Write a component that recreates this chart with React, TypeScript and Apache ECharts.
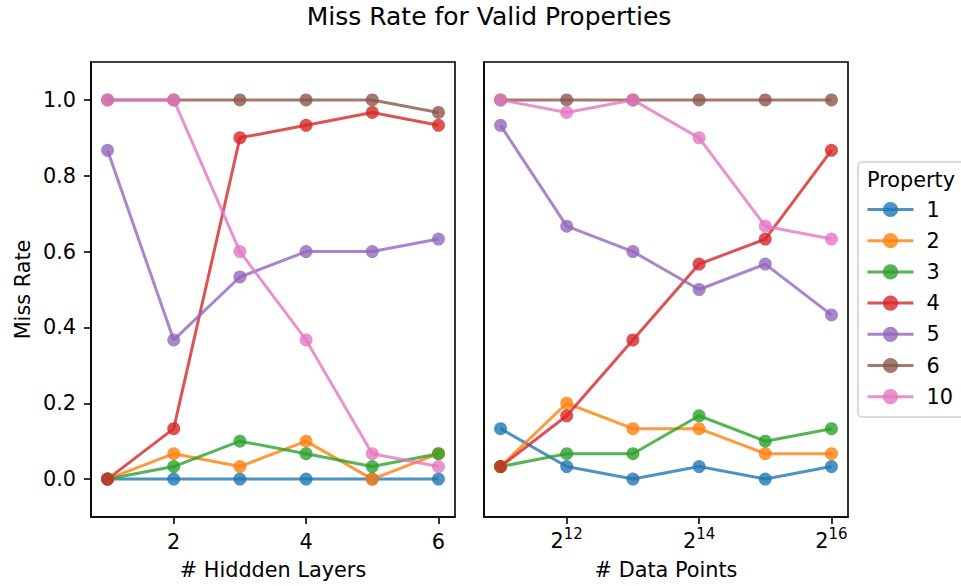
import React, { useEffect, useRef } from 'react';
import * as echarts from 'echarts';

const properties = ['1', '2', '3', '4', '5', '6', '10'];
const colors = ['#1f77b4', '#ff7f0e', '#2ca02c', '#d62728', '#9467bd', '#8c564b', '#e377c2'];
const hiddenLayers = [1, 2, 3, 4, 5, 6];
const dataPoints = [2048, 4096, 8192, 16384, 32768, 65536];
const layerMissRates = [
  [0, 0, 0, 0, 0, 0],
  [0, 0.067, 0.033, 0.1, 0, 0.067],
  [0, 0.033, 0.1, 0.067, 0.033, 0.067],
  [0, 0.133, 0.9, 0.933, 0.967, 0.933],
  [0.867, 0.367, 0.533, 0.6, 0.6, 0.633],
  [1, 1, 1, 1, 1, 0.967],
  [1, 1, 0.6, 0.367, 0.067, 0.033],
];
const dataMissRates = [
  [0.133, 0.033, 0, 0.033, 0, 0.033],
  [0.033, 0.2, 0.133, 0.133, 0.067, 0.067],
  [0.033, 0.067, 0.067, 0.167, 0.1, 0.133],
  [0.033, 0.167, 0.367, 0.567, 0.633, 0.867],
  [0.933, 0.667, 0.6, 0.5, 0.567, 0.433],
  [1, 1, 1, 1, 1, 1],
  [1, 0.967, 1, 0.9, 0.667, 0.633],
];
const yTicks = [0, 0.2, 0.4, 0.6, 0.8, 1.0];
const layerTicks = [2, 4, 6];
const dataTickExps = [12, 14, 16];

const FONT = 'DejaVu Sans';

export default function App() {
  const ref = useRef<HTMLDivElement>(null);
  useEffect(() => {
    if (!ref.current) return;
    const chart = echarts.init(ref.current, undefined, { renderer: 'svg' });
    const axisLine = { show: true, onZero: false, lineStyle: { color: '#000', width: 1.6 } };
    const tick = { show: true, length: 7, lineStyle: { color: '#000', width: 1.6 } };
    const series: any[] = [];
    properties.forEach((p, i) => {
      const common = {
        type: 'line',
        name: p,
        symbol: 'circle',
        symbolSize: 13,
        color: colors[i],
        lineStyle: { width: 3, opacity: 0.8, color: colors[i] },
        itemStyle: { opacity: 0.8, color: colors[i] },
        emphasis: { disabled: true },
      };
      series.push({
        ...common,
        xAxisIndex: 0,
        yAxisIndex: 0,
        data: hiddenLayers.map((x, j) => [x, layerMissRates[i][j]]),
      });
      series.push({
        ...common,
        xAxisIndex: 1,
        yAxisIndex: 1,
        data: dataPoints.map((x, j) => [Math.log2(x), dataMissRates[i][j]]),
      });
    });
    const grid = { top: 62, height: 455, width: 364, show: true, borderColor: '#000', borderWidth: 1.6 };
    chart.setOption({
      animation: false,
      textStyle: { fontFamily: FONT },
      grid: [
        { ...grid, left: 91 },
        { ...grid, left: 484 },
      ],
      xAxis: [
        {
          type: 'value', gridIndex: 0, min: 0.75, max: 6.25,
          axisLine, axisTick: { ...tick, customValues: layerTicks },
          axisLabel: { customValues: layerTicks, fontSize: 20.8, color: '#000', margin: 14, fontFamily: FONT },
          splitLine: { show: false },
          name: '# Hiddden Layers', nameLocation: 'middle', nameGap: 42,
          nameTextStyle: { fontSize: 20.8, color: '#000', fontFamily: FONT },
        },
        {
          type: 'value', gridIndex: 1, min: 10.75, max: 16.25,
          axisLine, axisTick: { ...tick, customValues: dataTickExps },
          axisLabel: {
            customValues: dataTickExps, color: '#000', margin: 9, fontFamily: FONT,
            formatter: (v: number) => `{b|2}{s|${v}}`,
            rich: {
              b: { fontSize: 20.8, fontFamily: FONT, color: '#000', verticalAlign: 'bottom' },
              s: { fontSize: 15, fontFamily: FONT, color: '#000', verticalAlign: 'bottom', padding: [0, 0, 10, 0] },
            },
          },
          splitLine: { show: false },
          name: '# Data Points', nameLocation: 'middle', nameGap: 42,
          nameTextStyle: { fontSize: 20.8, color: '#000', fontFamily: FONT },
        },
      ],
      yAxis: [
        {
          type: 'value', gridIndex: 0, min: -0.1, max: 1.1,
          axisLine, axisTick: { ...tick, customValues: yTicks },
          axisLabel: {
            customValues: yTicks, fontSize: 20.8, color: '#000', margin: 15, fontFamily: FONT,
            formatter: (v: number) => v.toFixed(1),
          },
          splitLine: { show: false },
          name: 'Miss Rate', nameLocation: 'middle', nameGap: 58,
          nameTextStyle: { fontSize: 20.8, color: '#000', fontFamily: FONT },
        },
        {
          type: 'value', gridIndex: 1, min: -0.1, max: 1.1,
          axisLine, axisTick: { show: false }, axisLabel: { show: false },
          splitLine: { show: false },
        },
      ],
      legend: {
        orient: 'vertical',
        left: 866,
        top: 199,
        padding: 0,
        itemWidth: 46,
        itemHeight: 19,
        itemGap: 10.2,
        data: properties,
        lineStyle: { width: 3, opacity: 0.8 },
        itemStyle: { opacity: 0.8 },
        textStyle: { fontSize: 20.8, color: '#000', fontFamily: FONT, padding: [0, 0, 0, 8] },
      },
      graphic: [
        {
          type: 'text', x: 489, y: 16,
          style: { text: 'Miss Rate for Valid Properties', font: `25px "${FONT}"`, fill: '#000', textAlign: 'center', textVerticalAlign: 'middle' },
        },
        {
          type: 'rect', shape: { x: 858, y: 162, width: 120, height: 255, r: 4 },
          style: { fill: '#fff', stroke: '#d0d0d0', lineWidth: 1.5 }, z: -1,
        },
        {
          type: 'text', x: 867, y: 180,
          style: { text: 'Property', font: `20.8px "${FONT}"`, fill: '#000', textAlign: 'left', textVerticalAlign: 'middle' },
        },
      ],
      series,
    });
    return () => chart.dispose();
  }, []);
  return <div ref={ref} style={{ width: 961, height: 586, position: 'absolute', left: 0, top: 0 }} />;
}
